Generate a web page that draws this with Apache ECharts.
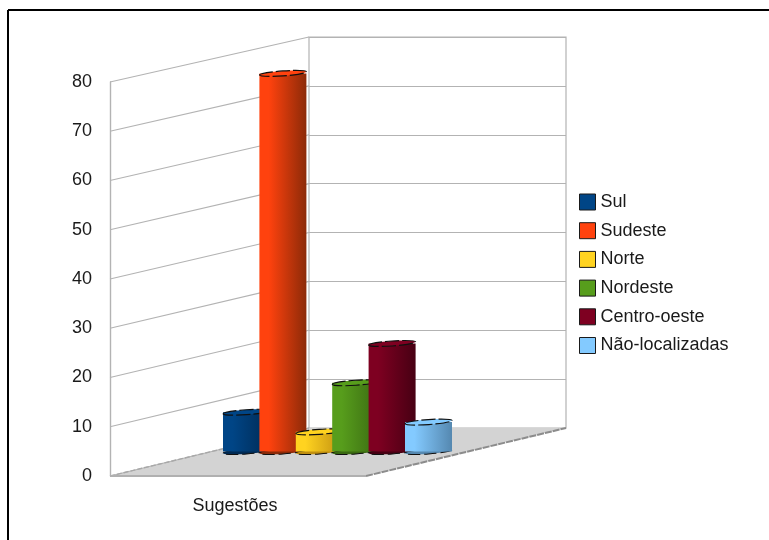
<!DOCTYPE html>
<html>
<head>
<meta charset="utf-8">
<style>html,body{margin:0;padding:0;background:#fff}#chart{width:769px;height:540px}</style>
<script src="https://cdn.jsdelivr.net/npm/echarts@6/dist/echarts.min.js"></script>
</head>
<body>
<div id="chart"></div>
<script>
// Suggestions received per region of Brazil
const groupLabel = ['Sugestões'];
const regions = ['Sul', 'Sudeste', 'Norte', 'Nordeste', 'Centro-oeste', 'Não-localizadas'];
const counts = [8, 77, 4, 14, 22, 6];
const baseColors = ['#004586', '#ff420e', '#ffd320', '#579d1c', '#7e0021', '#83caff'];
const shadeColors = ['#002a54', '#8c2a08', '#c08f10', '#3a6a12', '#470013', '#5588b0'];
const valueTicks = [0, 80, 10];

const FONT = '"Liberation Sans", Arial, sans-serif';
const WALL = '#b3b3b3';

// Wall and floor, projected from the front plane (grid 0) with a fixed depth shift
function renderRoom(params, api) {
  const v = api.value(1);
  const p = api.coord([0, v]);
  const size = api.size([1, 0]);
  const x0 = p[0] - size[0] / 2;
  const rise = 48 - 3 * v / 80;
  const children = [];
  children.push({
    type: 'line',
    shape: { x1: x0, y1: p[1], x2: x0 + 199, y2: p[1] - rise },
    style: { stroke: WALL, lineWidth: 1.2 }
  });
  if (v === 0) {
    children.unshift({
      type: 'polygon',
      shape: { points: [[x0, p[1]], [x0 + 256, p[1]], [x0 + 456, p[1] - 48], [x0 + 199, p[1] - 48]] },
      style: { fill: '#d3d3d3' }
    });
    children.push({
      type: 'line',
      shape: { x1: x0, y1: p[1], x2: x0 + 199, y2: p[1] - 48 },
      style: { stroke: '#a8a8a8', lineWidth: 1.4, lineDash: [5, 2] }
    }, {
      type: 'line',
      shape: { x1: x0 + 256, y1: p[1], x2: x0 + 456, y2: p[1] - 48 },
      style: { stroke: '#8c8c8c', lineWidth: 2, lineDash: [7, 1] }
    }, {
      type: 'line',
      shape: { x1: x0, y1: p[1], x2: x0 + 256, y2: p[1] },
      style: { stroke: '#b0b0b0', lineWidth: 2 }
    });
  }
  return { type: 'group', children };
}

// One flattened cylinder on the bar plane (grid 2)
function renderBar(params, api) {
  const i = api.value(0);
  const v = api.value(1);
  const top = api.coord([i, v]);
  const base = api.coord([i, 0]);
  const w = 47;
  const x = top[0] - w / 2;
  const fill = baseColors[i];
  const shade = shadeColors[i];
  const gradient = new echarts.graphic.LinearGradient(0, 0, 1, 0, [
    { offset: 0, color: fill },
    { offset: 0.2, color: fill },
    { offset: 1, color: shade }
  ]);
  return {
    type: 'group',
    children: [
      {
        type: 'ellipse',
        shape: { cx: top[0], cy: base[1] - 1.5, rx: w / 2, ry: 2.5 },
        rotation: 0.07,
        originX: top[0],
        originY: base[1] - 1.5,
        style: { fill: shade, stroke: '#101010', lineWidth: 1, lineDash: [12, 4] }
      },
      {
        type: 'rect',
        shape: { x, y: top[1] - 1.5, width: w, height: base[1] - top[1] },
        style: { fill: gradient }
      },
      {
        type: 'ellipse',
        shape: { cx: top[0], cy: top[1] - 1.5, rx: w / 2, ry: 2.5 },
        rotation: 0.07,
        originX: top[0],
        originY: top[1] - 1.5,
        style: { fill, stroke: '#101010', lineWidth: 1.2, lineDash: [14, 3] }
      }
    ]
  };
}

const tickValues = [];
for (let t = valueTicks[0]; t <= valueTicks[1]; t += valueTicks[2]) tickValues.push([0, t]);

const chart = echarts.init(document.getElementById('chart'), null, { renderer: 'canvas' });
chart.setOption({
  animation: false,
  backgroundColor: '#fff',
  graphic: [
    { type: 'line', shape: { x1: 8, y1: 10, x2: 769, y2: 10 }, style: { stroke: '#000', lineWidth: 2 }, z: 0 },
    { type: 'line', shape: { x1: 8, y1: 10, x2: 8, y2: 540 }, style: { stroke: '#000', lineWidth: 2 }, z: 0 }
  ],
  grid: [
    { left: 110, top: 82, width: 256, height: 394 },   // front plane with the visible value axis
    { left: 309, top: 37, width: 257, height: 391, show: true, borderColor: WALL, borderWidth: 1.2, backgroundColor: 'transparent' }, // back wall
    { left: 228.3, top: 60.2, width: 218.4, height: 392.8 } // plane the bars stand on
  ],
  xAxis: [
    {
      gridIndex: 0, type: 'category', data: groupLabel,
      axisLine: { show: false }, axisTick: { show: false },
      axisLabel: { color: '#1a1a1a', fontFamily: FONT, fontSize: 18, margin: 21, padding: [0, 6, 0, 0] }
    },
    { gridIndex: 1, type: 'category', data: groupLabel, show: false },
    { gridIndex: 2, type: 'category', data: regions, show: false }
  ],
  yAxis: [
    {
      gridIndex: 0, type: 'value', min: valueTicks[0], max: valueTicks[1], interval: valueTicks[2],
      axisLine: { show: true, lineStyle: { color: WALL, width: 1.4 } },
      axisTick: { show: false }, splitLine: { show: false },
      axisLabel: { color: '#1a1a1a', fontFamily: FONT, fontSize: 18, margin: 18 }
    },
    {
      gridIndex: 1, type: 'value', min: valueTicks[0], max: valueTicks[1], interval: valueTicks[2],
      axisLine: { show: false }, axisTick: { show: false }, axisLabel: { show: false },
      splitLine: { show: true, lineStyle: { color: WALL, width: 1.2 } }
    },
    { gridIndex: 2, type: 'value', min: valueTicks[0], max: valueTicks[1], show: false }
  ],
  legend: {
    orient: 'vertical', left: 574, top: 188,
    itemWidth: 16, itemHeight: 16, itemGap: 10.7,
    icon: 'rect',
    data: regions,
    itemStyle: { borderColor: '#1a1a1a', borderWidth: 1 },
    textStyle: { color: '#1a1a1a', fontFamily: FONT, fontSize: 18 }
  },
  series: [
    {
      type: 'custom', name: 'room', xAxisIndex: 0, yAxisIndex: 0, z: 1,
      renderItem: renderRoom, data: tickValues, silent: true
    }
  ].concat(regions.map((name, i) => ({
    type: 'custom', name, xAxisIndex: 2, yAxisIndex: 2, z: 3 + i,
    itemStyle: { color: baseColors[i] },
    renderItem: renderBar,
    encode: { x: 0, y: 1 },
    data: [[i, counts[i]]]
  })))
});
</script>
</body>
</html>
